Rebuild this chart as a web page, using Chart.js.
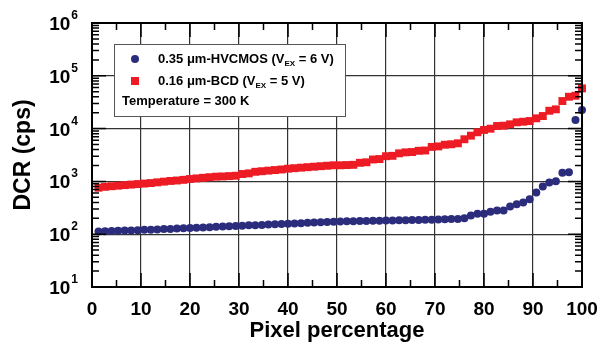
<!DOCTYPE html>
<html>
<head>
<meta charset="utf-8">
<script src="https://cdn.jsdelivr.net/npm/chart.js@4.4.1/dist/chart.umd.min.js"></script>
<style>
  html, body { margin: 0; padding: 0; background: #fff; }
  #wrap { width: 608px; height: 348px; position: relative; }
</style>
</head>
<body>
<div id="wrap"><canvas id="dcrChart"></canvas></div>
<script>
// pixel percentage of each measured pixel (75 pixels)
const pixelPct = [
  1.33, 2.67, 4, 5.33, 6.67, 8, 9.33, 10.67, 12, 13.33, 14.67, 16, 17.33, 18.67, 20,
  21.33, 22.67, 24, 25.33, 26.67, 28, 29.33, 30.67, 32, 33.33, 34.67, 36, 37.33, 38.67, 40,
  41.33, 42.67, 44, 45.33, 46.67, 48, 49.33, 50.67, 52, 53.33, 54.67, 56, 57.33, 58.67, 60,
  61.33, 62.67, 64, 65.33, 66.67, 68, 69.33, 70.67, 72, 73.33, 74.67, 76, 77.33, 78.67, 80,
  81.33, 82.67, 84, 85.33, 86.67, 88, 89.33, 90.67, 92, 93.33, 94.67, 96, 97.33, 98.67, 100
];

// DCR (cps), 0.35 um HV-CMOS, Vex = 6 V
const dcrHvcmos = [
  112, 114, 115, 116, 117, 118, 119, 121, 122, 123, 125, 126, 128, 129, 131, 133, 134, 136, 138,
  140, 142, 143, 145, 147, 148, 150, 152, 154, 156, 158, 160, 162, 164, 166, 168, 170, 172,
  174, 175, 176, 177, 178, 179, 180, 181, 182, 183, 184, 185, 186, 187, 188, 190, 192, 194,
  195, 201, 226, 243, 243, 265, 281, 281, 334, 371, 397, 461, 614, 797, 949, 1008, 1466, 1492, 14550, 22490
];

// DCR (cps), 0.16 um BCD, Vex = 5 V
const dcrBcd = [
  760, 790, 810, 830, 850, 870, 890, 910, 930, 960, 990, 1020, 1040, 1070, 1110, 1140, 1170, 1200, 1230,
  1240, 1260, 1280, 1380, 1420, 1520, 1560, 1600, 1640, 1680, 1740, 1780, 1820, 1860, 1900, 1940, 1980, 2020,
  2020, 2040, 2060, 2250, 2300, 2600, 2650, 3000, 3050, 3400, 3550, 3600, 3800, 3850, 4500, 4600, 4950, 5050,
  5270, 6280, 7350, 8520, 9420, 9960, 11200, 11350, 12060, 13150, 13500, 13920, 15660, 17300, 21780, 23160,
  33250, 40100, 41900, 57800
];

const xTicks = [0, 10, 20, 30, 40, 50, 60, 70, 80, 90, 100];
const yExponents = [1, 2, 3, 4, 5, 6];

const BLUE = '#2b2d7c';
const RED = '#ed1c24';
const FONT = '"Liberation Sans", Arial, sans-serif';

function toPoints(ys) {
  return pixelPct.map((p, i) => ({ x: p, y: ys[i] }));
}

// superscript power-of-ten label, right aligned at xr
function drawPow(ctx, exp, xr, y) {
  ctx.font = 'bold 12px ' + FONT;
  const ew = ctx.measureText(String(exp)).width;
  ctx.textAlign = 'right';
  ctx.textBaseline = 'alphabetic';
  ctx.fillText(String(exp), xr, y - 4);
  ctx.font = 'bold 19px ' + FONT;
  ctx.fillText('10', xr - ew - 1, y + 7);
}

function drawLegendRow(ctx, x, y, main, sub, tail) {
  ctx.font = 'bold 13px ' + FONT;
  ctx.textAlign = 'left';
  ctx.textBaseline = 'middle';
  ctx.fillText(main, x, y);
  let cx = x + ctx.measureText(main).width;
  ctx.font = 'bold 8px ' + FONT;
  ctx.fillText(sub, cx, y + 5);
  cx += ctx.measureText(sub).width;
  ctx.font = 'bold 13px ' + FONT;
  ctx.fillText(tail, cx, y);
}

const frame = {
  id: 'frame',
  afterDraw(chart) {
    const { ctx, chartArea: a, scales } = chart;
    const xs = scales.x, ys = scales.y;
    ctx.save();
    ctx.strokeStyle = '#000';
    ctx.fillStyle = '#000';

    // inward ticks, all four sides
    ctx.lineWidth = 1.5;
    for (let v = 0; v <= 100; v += 5) {
      const px = xs.getPixelForValue(v);
      const len = v % 10 === 0 ? 14 : 7;
      ctx.beginPath();
      ctx.moveTo(px, a.bottom); ctx.lineTo(px, a.bottom - len);
      ctx.moveTo(px, a.top); ctx.lineTo(px, a.top + len);
      ctx.stroke();
    }
    for (let e = 1; e <= 6; e++) {
      for (let m = 1; m <= 9; m++) {
        const v = m * Math.pow(10, e);
        if (v > 1e6) break;
        const py = ys.getPixelForValue(v);
        const len = m === 1 ? 14 : 7;
        ctx.beginPath();
        ctx.moveTo(a.left, py); ctx.lineTo(a.left + len, py);
        ctx.moveTo(a.right, py); ctx.lineTo(a.right - len, py);
        ctx.stroke();
      }
    }

    // box
    ctx.lineWidth = 2;
    ctx.strokeRect(a.left, a.top, a.right - a.left, a.bottom - a.top);

    // tick labels
    ctx.font = 'bold 19px ' + FONT;
    ctx.textAlign = 'center';
    ctx.textBaseline = 'middle';
    xTicks.forEach(v => ctx.fillText(String(v), xs.getPixelForValue(v), a.bottom + 23));
    yExponents.forEach(e => drawPow(ctx, e, a.left - 14, ys.getPixelForValue(Math.pow(10, e))));

    // axis titles
    ctx.font = 'bold 22px ' + FONT;
    ctx.textAlign = 'center';
    ctx.fillText('Pixel percentage', (a.left + a.right) / 2, a.bottom + 50);
    ctx.save();
    ctx.translate(30, (a.top + a.bottom) / 2);
    ctx.rotate(-Math.PI / 2);
    ctx.font = 'bold 23px ' + FONT;
    ctx.fillText('DCR (cps)', 0, 0);
    ctx.restore();

    // legend box
    const lx = 114, ly = 44, lw = 231, lh = 72;
    ctx.fillStyle = '#fff';
    ctx.fillRect(lx, ly, lw, lh);
    ctx.lineWidth = 1;
    ctx.strokeStyle = '#555';
    ctx.strokeRect(lx + 0.5, ly + 0.5, lw, lh);

    ctx.fillStyle = BLUE;
    ctx.beginPath();
    ctx.arc(lx + 21, ly + 15, 4, 0, Math.PI * 2);
    ctx.fill();
    ctx.fillStyle = RED;
    ctx.fillRect(lx + 17, ly + 33, 8, 8);

    ctx.fillStyle = '#000';
    drawLegendRow(ctx, lx + 44, ly + 15, '0.35 \u03bcm-HVCMOS (V', 'EX', ' = 6 V)');
    drawLegendRow(ctx, lx + 44, ly + 37, '0.16 \u03bcm-BCD (V', 'EX', ' = 5 V)');
    ctx.font = 'bold 13px ' + FONT;
    ctx.textAlign = 'left';
    ctx.fillText('Temperature = 300 K', lx + 8, ly + 57);
    ctx.restore();
  }
};

new Chart(document.getElementById('dcrChart'), {
  type: 'scatter',
  data: {
    datasets: [
      {
        label: '0.35 \u03bcm-HVCMOS',
        data: toPoints(dcrHvcmos),
        pointStyle: 'circle',
        pointRadius: 4,
        backgroundColor: BLUE,
        borderWidth: 0,
        clip: false
      },
      {
        label: '0.16 \u03bcm-BCD',
        data: toPoints(dcrBcd),
        pointStyle: 'rect',
        pointRadius: 5.6,
        backgroundColor: RED,
        borderWidth: 0,
        clip: false
      }
    ]
  },
  options: {
    responsive: true,
    maintainAspectRatio: false,
    animation: false,
    layout: { padding: { top: 23, right: 26, left: 0, bottom: 0 } },
    plugins: { legend: { display: false }, tooltip: { enabled: false } },
    scales: {
      x: {
        type: 'linear',
        min: 0,
        max: 100,
        ticks: { display: false, stepSize: 10 },
        grid: { color: '#333', lineWidth: 1.2, drawTicks: false },
        border: { display: false },
        afterFit: s => { s.height = 61; }
      },
      y: {
        type: 'logarithmic',
        min: 10,
        max: 1e6,
        ticks: { display: false },
        grid: {
          color: c => {
            const v = c.tick && c.tick.value;
            return v && Math.abs(Math.log10(v) - Math.round(Math.log10(v))) < 1e-6 ? '#333' : 'rgba(0,0,0,0)';
          },
          lineWidth: 1.2,
          drawTicks: false
        },
        border: { display: false },
        afterFit: s => { s.width = 92; }
      }
    }
  },
  plugins: [frame]
});
</script>
</body>
</html>
